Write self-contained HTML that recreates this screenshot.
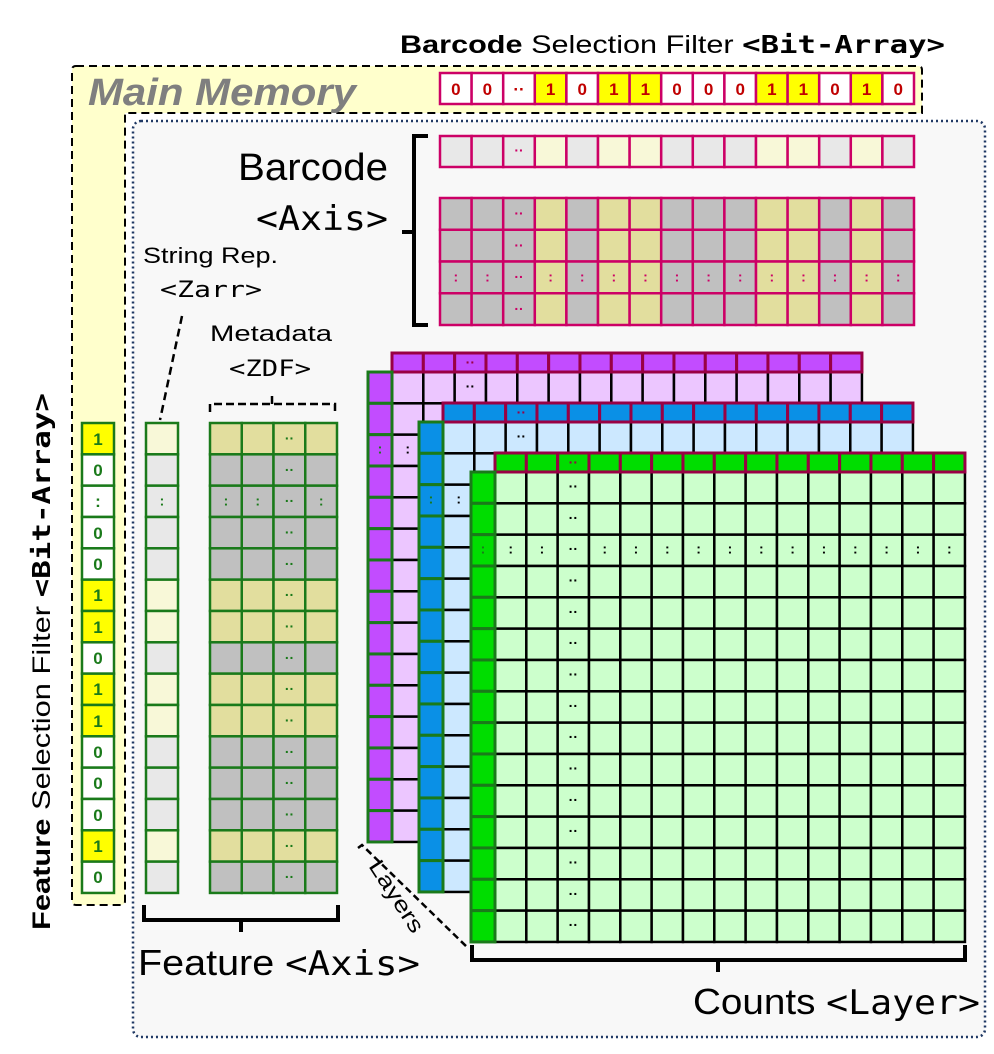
<!DOCTYPE html>
<html><head><meta charset="utf-8"><style>
html,body{margin:0;padding:0;background:#fff;}
svg{display:block;}
text{font-family:"Liberation Sans","DejaVu Sans",sans-serif;}
.m{font-family:"DejaVu Sans Mono","Liberation Mono",monospace;}
</style></head><body>
<svg id="s" width="994" height="1054" viewBox="0 0 994 1054" xmlns="http://www.w3.org/2000/svg">
<path d="M76,66 H918 Q922,66 922,70 V113 H125 V901 Q125,905 121,905 H76 Q72,905 72,901 V70 Q72,66 76,66 Z" fill="#ffffcc" stroke="#000" stroke-width="2" stroke-dasharray="8,5"/>
<rect x="133" y="121" width="852" height="916" rx="8" fill="#f8f8f8" stroke="#1f3864" stroke-width="2.5" stroke-dasharray="2,3"/>
<text x="88" y="105" font-size="38" font-weight="bold" font-style="italic" fill="#7f7f7f" textLength="268" lengthAdjust="spacingAndGlyphs">Main Memory</text>
<text x="400" y="53" font-size="25" textLength="545" lengthAdjust="spacingAndGlyphs"><tspan font-weight="bold">Barcode</tspan> Selection Filter <tspan class="m" font-weight="bold">&lt;Bit-Array&gt;</tspan></text>
<g id="g"></g>
<text x="238" y="180" font-size="38" textLength="150" lengthAdjust="spacingAndGlyphs">Barcode</text>
<text x="256" y="230" font-size="34" class="m" textLength="132" lengthAdjust="spacingAndGlyphs">&lt;Axis&gt;</text>
<text x="143" y="263" font-size="22" textLength="135" lengthAdjust="spacingAndGlyphs">String Rep.</text>
<text x="160" y="297" font-size="22" class="m" textLength="102" lengthAdjust="spacingAndGlyphs">&lt;Zarr&gt;</text>
<text x="210" y="341" font-size="22" textLength="122" lengthAdjust="spacingAndGlyphs">Metadata</text>
<text x="229" y="376" font-size="22" class="m" textLength="82" lengthAdjust="spacingAndGlyphs">&lt;ZDF&gt;</text>
<text x="138" y="975" font-size="36" textLength="282" lengthAdjust="spacingAndGlyphs">Feature <tspan class="m" font-size="34">&lt;Axis&gt;</tspan></text>
<text x="693" y="1014" font-size="36" textLength="287" lengthAdjust="spacingAndGlyphs">Counts <tspan class="m" font-size="34">&lt;Layer&gt;</tspan></text>
<text transform="translate(50,930) rotate(-90)" font-size="25" textLength="537" lengthAdjust="spacingAndGlyphs"><tspan font-weight="bold">Feature</tspan> Selection Filter <tspan class="m" font-weight="bold">&lt;Bit-Array&gt;</tspan></text>
<text transform="translate(368,866) rotate(57)" font-size="22" textLength="82" lengthAdjust="spacingAndGlyphs">Layers</text>
<path d="M182,316 L160,420" stroke="#000" stroke-width="2.5" stroke-dasharray="8,5" fill="none"/>
<path d="M210,412 V404 H335 V412 M272,404 V395" stroke="#000" stroke-width="2.5" stroke-dasharray="8,4" fill="none"/>
<path d="M358,848 L362,845 L468,948" stroke="#000" stroke-width="2.5" stroke-dasharray="7,4" fill="none"/>
<path d="M428,136 H414 V325 H428 M414,232 H402" stroke="#000" stroke-width="4" fill="none"/>
<path d="M144,905 V920 H338 V905 M241,920 V932" stroke="#000" stroke-width="4" fill="none"/>
<path d="M472,945 V960 H965 V945 M718,960 V972" stroke="#000" stroke-width="4" fill="none"/>
<g font-size="17" font-weight="bold" fill="#c00000" text-anchor="middle">
<text x="455.8" y="95">0</text><text x="487.4" y="95">0</text><text x="519" y="95">··</text><text x="550.6" y="95">1</text><text x="582.2" y="95">0</text><text x="613.8" y="95">1</text><text x="645.4" y="95">1</text><text x="677" y="95">0</text><text x="708.6" y="95">0</text><text x="740.2" y="95">0</text><text x="771.8" y="95">1</text><text x="803.4" y="95">1</text><text x="835" y="95">0</text><text x="866.6" y="95">1</text><text x="898.2" y="95">0</text>
</g>
<g font-size="17" font-weight="bold" fill="#1a7a1a" text-anchor="middle">
<text x="98" y="445">1</text><text x="98" y="476">0</text><text x="98" y="507">:</text><text x="98" y="539">0</text><text x="98" y="570">0</text><text x="98" y="601">1</text><text x="98" y="633">1</text><text x="98" y="664">0</text><text x="98" y="695">1</text><text x="98" y="727">1</text><text x="98" y="758">0</text><text x="98" y="789">0</text><text x="98" y="821">0</text><text x="98" y="852">1</text><text x="98" y="883">0</text>
</g>
</svg>
<script>
var NS="http://www.w3.org/2000/svg",G=document.getElementById('g');
function R(x,y,w,h,f,s,sw){var r=document.createElementNS(NS,'rect');r.setAttribute('x',x);r.setAttribute('y',y);r.setAttribute('width',w);r.setAttribute('height',h);r.setAttribute('fill',f);r.setAttribute('stroke',s);r.setAttribute('stroke-width',sw);G.appendChild(r);}
function T(x,y,t,c){var e=document.createElementNS(NS,'text');e.setAttribute('x',x);e.setAttribute('y',y);e.setAttribute('font-size','14');e.setAttribute('font-weight','bold');e.setAttribute('fill',c);e.setAttribute('text-anchor','middle');e.textContent=t;G.appendChild(e);}
var bv=[0,0,0,1,0,1,1,0,0,0,1,1,0,1,0],fv=[1,0,0,0,0,1,1,0,1,1,0,0,0,1,0];
var bw=31.6,fh=31.33,i,j;
for(i=0;i<15;i++)R(440+i*bw,73,bw,31,bv[i]?'#ffff00':'#fff','#cc0066',2.5);
for(i=0;i<15;i++){R(440+i*bw,136,bw,31,bv[i]?'#f8f8d8':'#e8e8e8','#cc0066',2.5);}
T(519,155,'··','#cc0066');
for(j=0;j<4;j++)for(i=0;i<15;i++){R(440+i*bw,198+j*31.75,bw,31.75,bv[i]?'#e2de9e':'#c0c0c0','#cc0066',2.5);
 if(i==2)T(519,218+j*31.75,'··','#cc0066');else if(j==2)T(455.8+i*bw,218+j*31.75,':','#cc0066');}
for(j=0;j<15;j++){R(82,423+j*fh,32,fh,fv[j]?'#ffff00':'#fff','#1a7a1a',2.5);
 R(146,423+j*fh,32,fh,fv[j]?'#f8f8d8':'#e8e8e8','#1a7a1a',2.5);
 for(i=0;i<4;i++){R(210+i*31.75,423+j*fh,31.75,fh,fv[j]?'#e2de9e':'#c0c0c0','#1a7a1a',2.5);
  if(i==2)T(210+i*31.75+16,443+j*fh,'··','#1a7a1a');else if(j==2)T(210+i*31.75+16,443+j*fh,':','#1a7a1a');}
 if(j==2)T(162,443+j*fh,':','#1a7a1a');}
var L=[[-103,-100,'#c24cff','#ecc6ff'],[-52,-50,'#0a90e6','#cce8ff'],[0,0,'#00dd00','#ccffcc']];
var cw=31.33;
L.forEach(function(l){var ox=l[0],oy=l[1];
 for(j=0;j<15;j++)for(i=0;i<15;i++){R(495+ox+i*cw,472+oy+j*fh,cw,fh,l[3],'#000',2.5);}
 for(j=0;j<15;j++)for(i=0;i<15;i++){var x=495+ox+i*cw+cw/2,y=491+oy+j*fh;
  if(i==2)T(x,y,'··','#000');else if(j==2)T(x,y,':','#000');}
 for(i=0;i<15;i++){R(495+ox+i*cw,453+oy,cw,19,l[2],'#990044',3);}
 T(495+ox+2*cw+cw/2,467+oy,'··','#990044');
 for(j=0;j<15;j++){R(471+ox,472+oy+j*fh,24,fh,l[2],'#1a7a1a',3);}
 T(483+ox,491+oy+2*fh,':','#1a7a1a');
});
</script>
</body></html>
